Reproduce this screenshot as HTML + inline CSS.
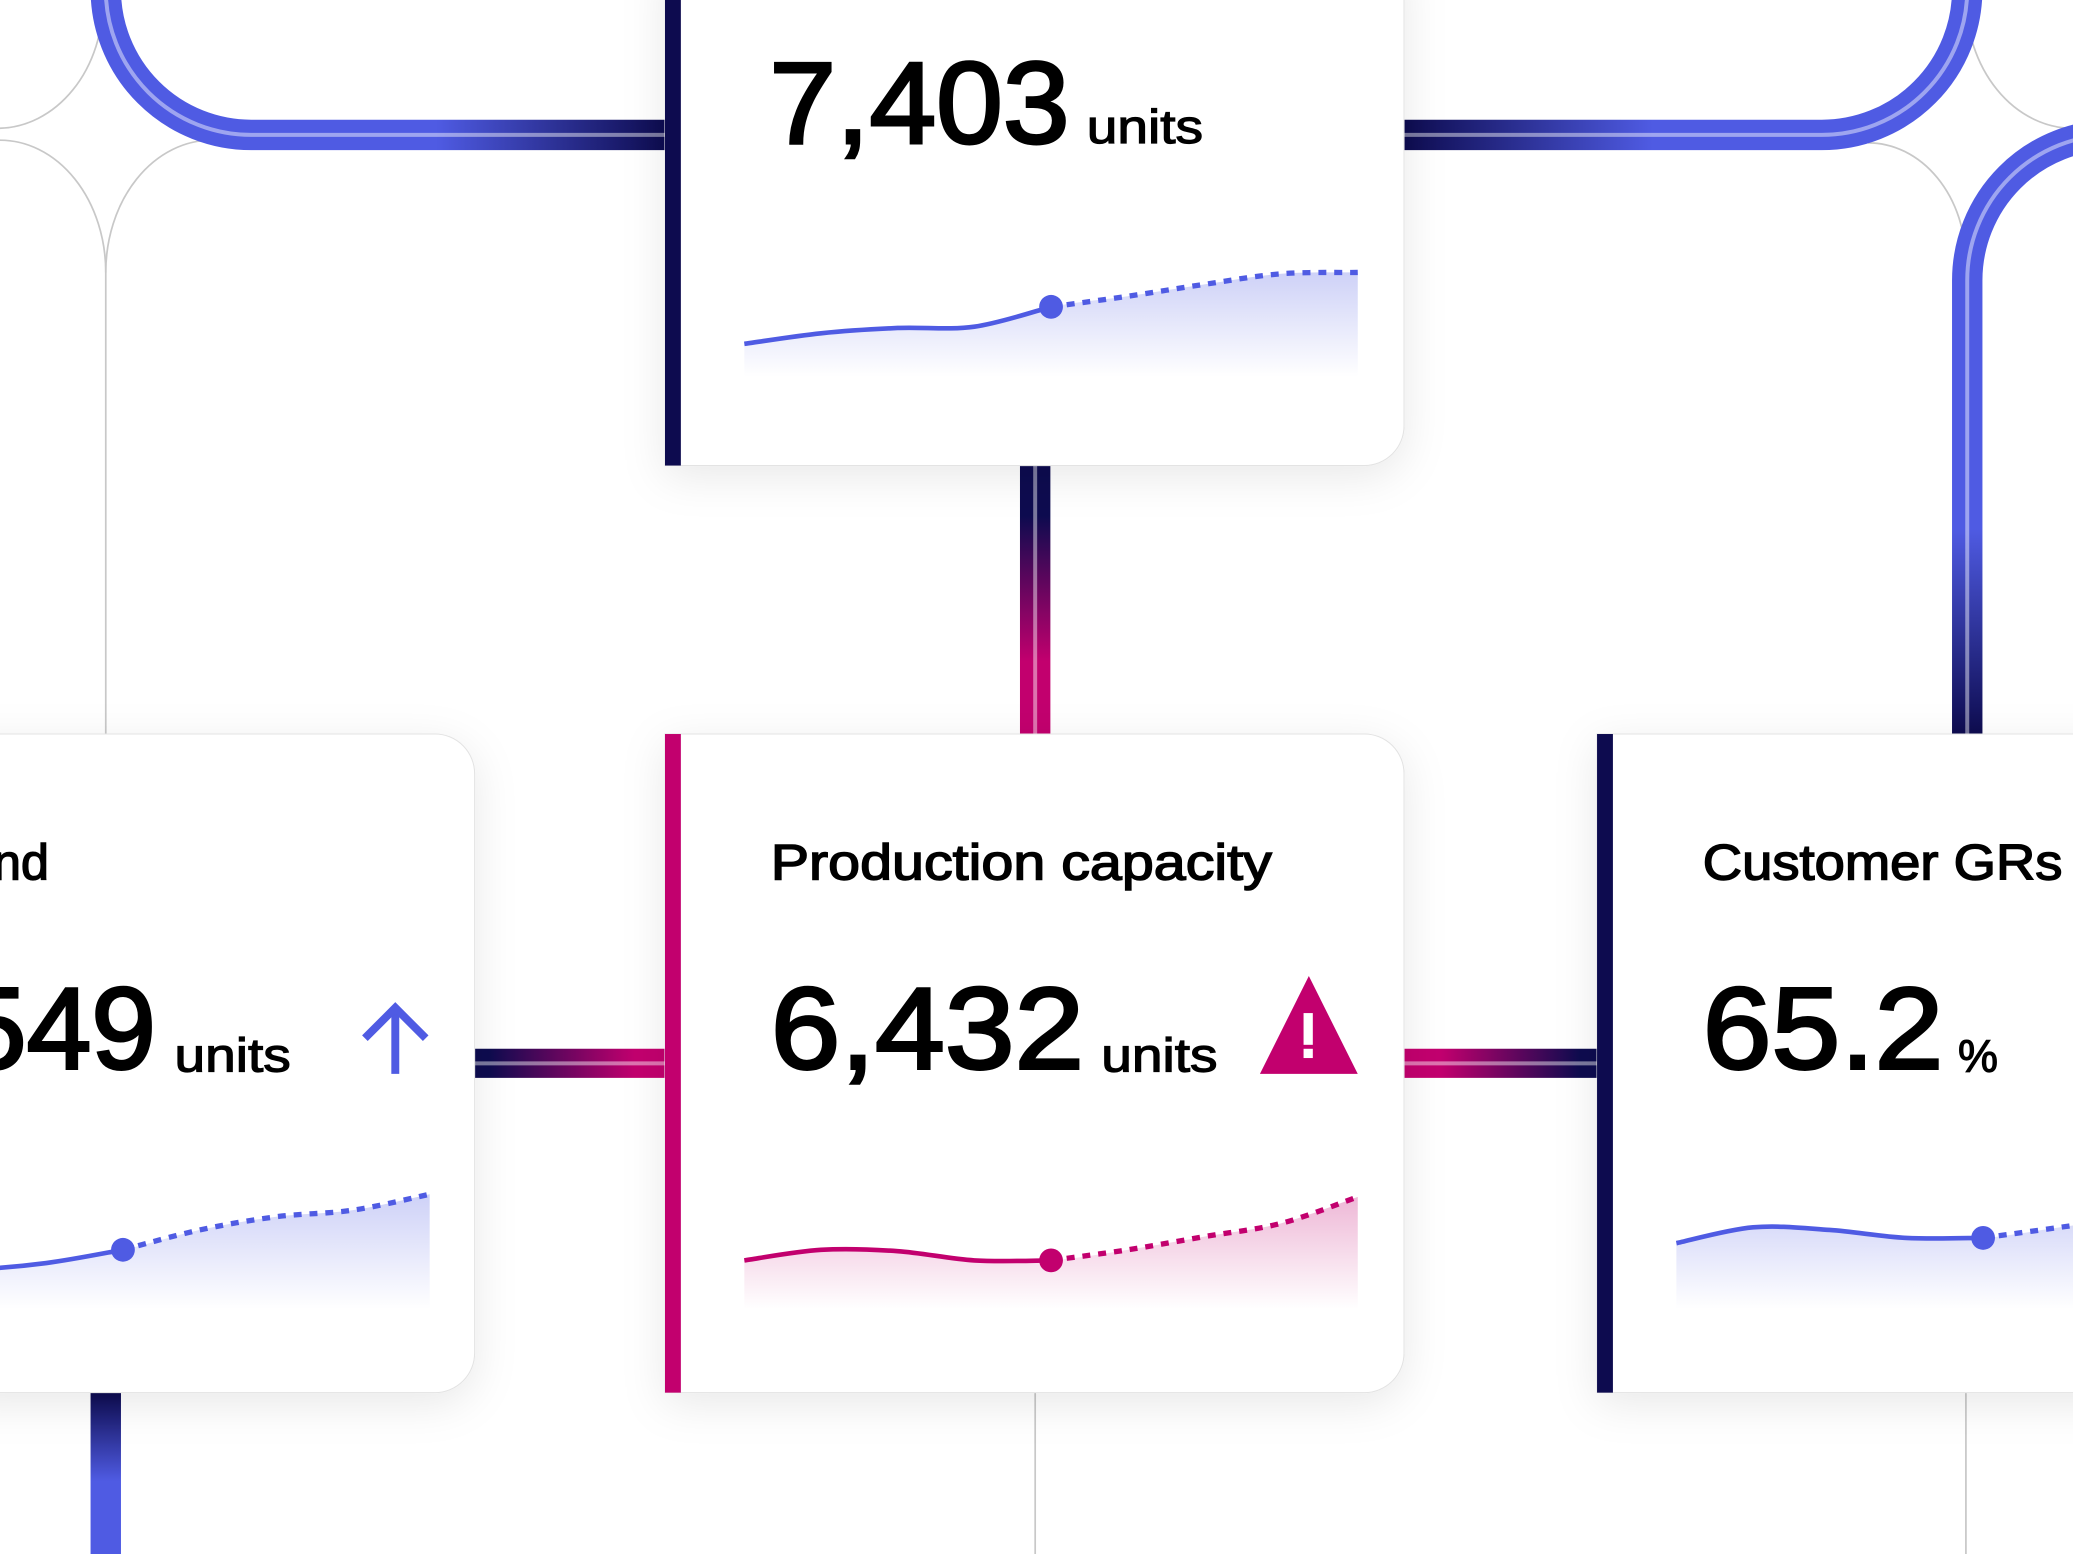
<!DOCTYPE html>
<html><head><meta charset="utf-8"><style>
html,body{margin:0;padding:0;background:#fff;overflow:hidden}
svg{display:block}
text{font-family:"Liberation Sans",sans-serif;fill:#000}
</style></head><body>
<svg id="s" width="2073" height="1554" viewBox="0 0 1568 1175" preserveAspectRatio="none" xmlns="http://www.w3.org/2000/svg">
<defs>
<filter id="sh" x="-30%" y="-30%" width="160%" height="160%"><feDropShadow dx="0" dy="8" stdDeviation="16" flood-color="#000" flood-opacity="0.09"/></filter>
<linearGradient id="gTL" gradientUnits="userSpaceOnUse" x1="330" y1="0" x2="503" y2="0"><stop offset="0" stop-color="#4f5be3"/><stop offset="1" stop-color="#0d0b4f"/></linearGradient>
<linearGradient id="gTR" gradientUnits="userSpaceOnUse" x1="1062" y1="0" x2="1250" y2="0"><stop offset="0" stop-color="#0d0b4f"/><stop offset="1" stop-color="#4f5be3"/></linearGradient>
<linearGradient id="gR" gradientUnits="userSpaceOnUse" x1="0" y1="400" x2="0" y2="555"><stop offset="0" stop-color="#4f5be3"/><stop offset="1" stop-color="#0d0b4f"/></linearGradient>
<linearGradient id="gV" gradientUnits="userSpaceOnUse" x1="0" y1="390" x2="0" y2="500"><stop offset="0" stop-color="#0d0b4f"/><stop offset="1" stop-color="#c2006e"/></linearGradient>
<linearGradient id="gML" gradientUnits="userSpaceOnUse" x1="370" y1="0" x2="480" y2="0"><stop offset="0" stop-color="#0d0b4f"/><stop offset="1" stop-color="#c2006e"/></linearGradient>
<linearGradient id="gMR" gradientUnits="userSpaceOnUse" x1="1090" y1="0" x2="1195" y2="0"><stop offset="0" stop-color="#c2006e"/><stop offset="1" stop-color="#0d0b4f"/></linearGradient>
<linearGradient id="gB" gradientUnits="userSpaceOnUse" x1="0" y1="1053" x2="0" y2="1120"><stop offset="0" stop-color="#0d0b4f"/><stop offset="1" stop-color="#4f5be3"/></linearGradient>
<linearGradient id="fillBlue" x1="0" y1="0" x2="0" y2="1"><stop offset="0" stop-color="#4f5be3" stop-opacity="0.28"/><stop offset="1" stop-color="#4f5be3" stop-opacity="0"/></linearGradient>
<linearGradient id="fillPink" x1="0" y1="0" x2="0" y2="1"><stop offset="0" stop-color="#c2006e" stop-opacity="0.28"/><stop offset="1" stop-color="#c2006e" stop-opacity="0"/></linearGradient>
</defs>

<g fill="none" stroke="#c8c8c8" stroke-width="1.3">
<path d="M0,97 A80,97 0 0 0 78,0"/>
<path d="M0,106 A80,100 0 0 1 80,206 V555"/>
<path d="M80,206 A80,100 0 0 1 160,106"/>
<path d="M1487,-2 A81,99 0 0 0 1568,97"/>
<path d="M1413,108 A74,90 0 0 1 1487,198"/>
<path d="M783,1053 V1175"/>
<path d="M1487,1053 V1175"/>
</g>

<g fill="none">
<path d="M80,-8 A110,110 0 0 0 190,102 H503" stroke="url(#gTL)" stroke-width="23"/>
<path d="M80,-8 A110,110 0 0 0 190,102 H503" stroke="#fff" stroke-opacity="0.45" stroke-width="3"/>
<path d="M1062,102 H1378 A110,110 0 0 0 1488,-8" stroke="url(#gTR)" stroke-width="23"/>
<path d="M1062,102 H1378 A110,110 0 0 0 1488,-8" stroke="#fff" stroke-opacity="0.45" stroke-width="3"/>
<path d="M1488,555 V212 A110,110 0 0 1 1598,102" stroke="url(#gR)" stroke-width="23"/>
<path d="M1488,555 V212 A110,110 0 0 1 1598,102" stroke="#fff" stroke-opacity="0.45" stroke-width="3"/>
<path d="M783,340 V560" stroke="url(#gV)" stroke-width="23"/>
<path d="M783,340 V560" stroke="#fff" stroke-opacity="0.45" stroke-width="3"/>
<path d="M350,804 H505" stroke="url(#gML)" stroke-width="22"/>
<path d="M350,804 H505" stroke="#fff" stroke-opacity="0.45" stroke-width="3"/>
<path d="M1060,804 H1210" stroke="url(#gMR)" stroke-width="22"/>
<path d="M1060,804 H1210" stroke="#fff" stroke-opacity="0.45" stroke-width="3"/>
<path d="M80,1050 V1180" stroke="url(#gB)" stroke-width="23"/>
</g>

<g>
<path filter="url(#sh)" d="M503,-30 H1062 V322 A30,30 0 0 1 1032,352 H503 Z" fill="#fff" stroke="#e3e3e3" stroke-width="0.8"/>
<rect x="503" y="-30" width="12" height="382" fill="#0d0b4f"/>
<path filter="url(#sh)" d="M503,555 H1032 A30,30 0 0 1 1062,585 V1023 A30,30 0 0 1 1032,1053 H503 Z" fill="#fff" stroke="#e3e3e3" stroke-width="0.8"/>
<rect x="503" y="555" width="12" height="498" fill="#c2006e"/>
<path filter="url(#sh)" d="M-30,555 H329 A30,30 0 0 1 359,585 V1023 A30,30 0 0 1 329,1053 H-30 Z" fill="#fff" stroke="#e3e3e3" stroke-width="0.8"/>
<path filter="url(#sh)" d="M1208,555 H1620 V1053 H1208 Z" fill="#fff" stroke="#e3e3e3" stroke-width="0.8"/>
<rect x="1208" y="555" width="12" height="498" fill="#0d0b4f"/>
</g>

<g>
<text x="582" y="108" font-size="88" textLength="227" lengthAdjust="spacingAndGlyphs" stroke="#000" stroke-width="2.2">7,403</text>
<text x="822" y="108" font-size="36" textLength="88" lengthAdjust="spacingAndGlyphs" stroke="#000" stroke-width="0.9">units</text>

<text x="583" y="665" font-size="38" textLength="379" lengthAdjust="spacingAndGlyphs" stroke="#000" stroke-width="1.1">Production capacity</text>
<text x="583" y="808" font-size="88" textLength="237" lengthAdjust="spacingAndGlyphs" stroke="#000" stroke-width="2.2">6,432</text>
<text x="833" y="810" font-size="36" textLength="88" lengthAdjust="spacingAndGlyphs" stroke="#000" stroke-width="0.9">units</text>
<g>
<path d="M990,738 L1027,812 H953 Z" fill="#c2006e"/>
<rect x="986" y="766" width="7" height="24" fill="#fff"/>
<rect x="986" y="793" width="7" height="7" fill="#fff"/>
</g>

<text x="37" y="665" font-size="38" text-anchor="end" stroke="#000" stroke-width="1.1">Demand</text>
<text x="118" y="808" font-size="88" text-anchor="end" stroke="#000" stroke-width="2.2">5,549</text>
<text x="132" y="810" font-size="36" textLength="88" lengthAdjust="spacingAndGlyphs" stroke="#000" stroke-width="0.9">units</text>
<g fill="none" stroke="#4f5be3" stroke-width="6">
<path d="M299,812 V764"/><path d="M276,785 L299,762 L322,785"/>
</g>

<text x="1288" y="665" font-size="38" textLength="272" lengthAdjust="spacingAndGlyphs" stroke="#000" stroke-width="1.1">Customer GRs</text>
<text x="1288" y="808" font-size="88" textLength="182" lengthAdjust="spacingAndGlyphs" stroke="#000" stroke-width="2.2">65.2</text>
<text x="1481" y="810" font-size="34" stroke="#000" stroke-width="0.9">%</text>
</g>
<g id="charts"></g>
</svg>
<script>
// sparkline data (value above chart baseline)
const topValues = [30, 38, 42, 43, 58, 66, 75, 83, 84];
const prodValues = [37, 45, 44, 37, 37, 45, 55, 65, 85];
const demandValues = [30, 30, 30, 35, 45, 60, 70, 75, 87];
const customerValues = [50, 62, 60, 54, 54, 62, 70, 76, 82];
const actualCount = 5; // index 0..4 actual, rest forecast

const NS = "http://www.w3.org/2000/svg";
const charts = document.getElementById('charts');
function xScale(x0, i) { return x0 + i * 58; }
function yScale(base, v) { return base - v; }
function smooth(pts) {
  let d = "M" + pts[0][0] + "," + pts[0][1];
  for (let i = 0; i < pts.length - 1; i++) {
    const p0 = pts[Math.max(0, i - 1)], p1 = pts[i], p2 = pts[i + 1], p3 = pts[Math.min(pts.length - 1, i + 2)];
    const c1x = p1[0] + (p2[0] - p0[0]) / 6, c1y = p1[1] + (p2[1] - p0[1]) / 6;
    const c2x = p2[0] - (p3[0] - p1[0]) / 6, c2y = p2[1] - (p3[1] - p1[1]) / 6;
    d += " C" + c1x + "," + c1y + " " + c2x + "," + c2y + " " + p2[0] + "," + p2[1];
  }
  return d;
}
function spark(name, values, x0, base, color, fillId, fillBottom) {
  const g = document.createElementNS(NS, 'g');
  
  
  const pts = values.map((v, i) => [xScale(x0, i), yScale(base, v)]);
  const area = document.createElementNS(NS, 'path');
  
  
  const last = pts[pts.length - 1];
  area.setAttribute('d', smooth(pts) + " L" + last[0] + "," + fillBottom + " L" + pts[0][0] + "," + fillBottom + " Z");
  area.setAttribute('fill', 'url(#' + fillId + ')');
  g.appendChild(area);
  const act = document.createElementNS(NS, 'path');
  
  
  act.setAttribute('d', smooth(pts.slice(0, actualCount)));
  act.setAttribute('fill', 'none'); act.setAttribute('stroke', color); act.setAttribute('stroke-width', '3.5');
  g.appendChild(act);
  const fc = document.createElementNS(NS, 'path');
  
  
  fc.setAttribute('d', smooth(pts.slice(actualCount - 1)));
  fc.setAttribute('fill', 'none'); fc.setAttribute('stroke', color); fc.setAttribute('stroke-width', '4');
  fc.setAttribute('stroke-dasharray', '6 6');
  g.appendChild(fc);
  const dot = document.createElementNS(NS, 'circle');
  
  
  const p = pts[actualCount - 1];
  dot.setAttribute('cx', p[0]); dot.setAttribute('cy', p[1]); dot.setAttribute('r', '9'); dot.setAttribute('fill', color);
  g.appendChild(dot);
  charts.appendChild(g);
}
spark('top-sparkline', topValues, 563, 290, '#4f5be3', 'fillBlue', 285);
spark('production-sparkline', prodValues, 563, 990, '#c2006e', 'fillPink', 990);
spark('demand-sparkline', demandValues, -139, 990, '#4f5be3', 'fillBlue', 990);
spark('customer-sparkline', customerValues, 1268, 990, '#4f5be3', 'fillBlue', 990);
</script>
</body></html>
